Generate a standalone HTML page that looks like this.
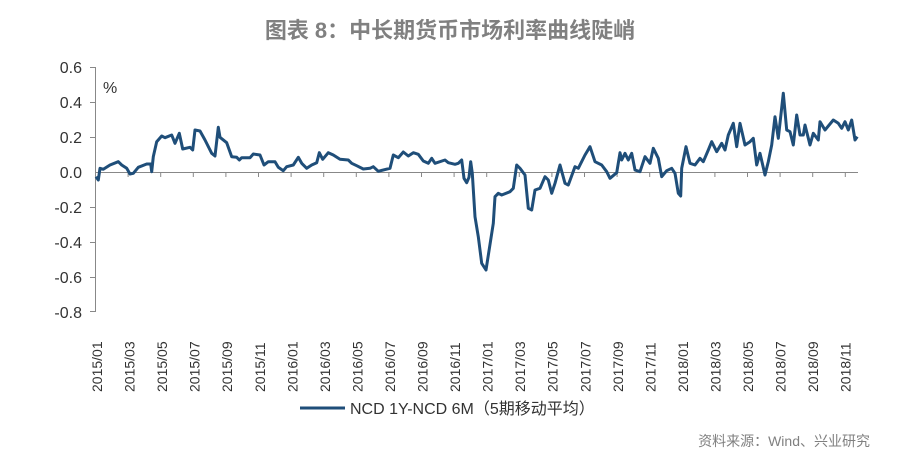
<!DOCTYPE html>
<html><head><meta charset="utf-8"><style>
body{margin:0;background:#fff;width:900px;height:463px;overflow:hidden;font-family:"Liberation Sans","Noto Sans CJK SC",sans-serif}
</style></head><body>
<svg id="s" width="900" height="463" xmlns="http://www.w3.org/2000/svg" font-family="Liberation Sans, Noto Sans CJK SC, sans-serif">
<text x="450" y="38" text-anchor="middle" font-size="22" font-weight="bold" fill="#808080">图表 8：中长期货币市场利率曲线陡峭</text>
<text x="103" y="93" font-size="16" fill="#333">%</text>
<g font-size="16" fill="#333" text-anchor="end">
<text x="82" y="73">0.6</text><text x="82" y="108">0.4</text><text x="82" y="143">0.2</text><text x="82" y="178">0.0</text>
<text x="82" y="213">-0.2</text><text x="82" y="248">-0.4</text><text x="82" y="283">-0.6</text><text x="82" y="318">-0.8</text>
</g>
<g stroke="#888" stroke-width="1">
<line x1="95.5" y1="67" x2="95.5" y2="312"/>
<line x1="90" y1="67.5" x2="95" y2="67.5"/><line x1="90" y1="102.5" x2="95" y2="102.5"/><line x1="90" y1="137.5" x2="95" y2="137.5"/><line x1="90" y1="207.5" x2="95" y2="207.5"/><line x1="90" y1="242.5" x2="95" y2="242.5"/><line x1="90" y1="277.5" x2="95" y2="277.5"/><line x1="90" y1="311.5" x2="95" y2="311.5"/>
<line x1="95" y1="172.5" x2="858" y2="172.5"/>
</g>
<g id="ticks" stroke="#888" stroke-width="1"></g>
<g id="xl" font-size="14" fill="#333"></g>
<path id="ln" fill="none" stroke="#1f4e79" stroke-width="3" stroke-linejoin="round"/>
<line x1="300" y1="408" x2="345" y2="408" stroke="#1f4e79" stroke-width="3"/>
<text x="350" y="414" font-size="16" fill="#333">NCD 1Y-NCD 6M（5期移动平均）</text>
<text x="870" y="446" text-anchor="end" font-size="14" fill="#808080">资料来源：Wind、兴业研究</text>
</svg>
<script>
var a=[48,380,55,390,60,355,70,358,90,345,115,335,125,345,140,355,150,372,160,370,175,352,200,342,212,342,215,365,220,320,230,275,245,258,255,263,275,255,285,280,298,250,308,297,330,292,338,300,345,240,360,243,375,270,395,310,405,318,415,232,420,262,440,278,455,320,470,322,478,330,485,323,510,323,520,312,540,315,552,345,565,335,585,335,595,352,610,362,620,350,640,345,655,322,665,340,680,355,695,345,710,338,718,308,728,328,745,308,760,315,780,328,805,330,815,340,830,347,850,357,870,355,880,350,895,364,930,355,940,315,955,323,970,306,985,318,1000,308,1015,313,1030,333,1045,340,1055,325,1065,340,1095,330,1105,338,1125,343,1135,340,1145,330,1152,385,1160,398,1167,382,1172,335,1177,370,1185,500];
var b=[15,500,25,560,35,640,48,660,70,520,75,440,85,430,95,435,120,425,130,415,140,345,150,355,165,375,175,475,185,480,195,420,210,415,225,380,235,390,245,430,255,400,270,345,285,400,295,405,315,350,325,355,345,315,360,290,375,335,395,345,410,365,420,385,440,368,450,308,455,330,465,310,475,330,485,310,495,360,510,365,525,320,540,340,550,295,565,325,575,380,590,362,605,355,615,370,625,430,632,438,635,355,648,290,660,340,675,345,690,325,700,335,715,300,725,275,740,305,755,280,765,300,775,255,790,220,800,290,810,220,825,285,840,275,850,265,860,345,870,310,885,375,895,335,905,285,915,200,925,265,940,130,950,240,960,245,970,285,980,195,990,255,1000,255,1005,225,1020,285,1030,250,1045,270,1050,215,1065,240,1090,210,1105,220,1115,235,1125,215,1135,240,1145,210,1155,270,1162,260];
var d="";
for(var i=0;i<a.length;i+=2)d+=(i?"L":"M")+(80+a[i]/3).toFixed(1)+","+(50+a[i+1]/3).toFixed(1);
for(var i=0;i<b.length;i+=2)d+="L"+(470+b[i]/3).toFixed(1)+","+(50+b[i+1]/3).toFixed(1);
document.getElementById("ln").setAttribute("d",d);
var ns="http://www.w3.org/2000/svg",t=document.getElementById("ticks");
for(var x=95.5+32.6;x<860;x+=32.6){var l=document.createElementNS(ns,"line");l.setAttribute("x1",x.toFixed(1));l.setAttribute("x2",x.toFixed(1));l.setAttribute("y1",172);l.setAttribute("y2",177);t.appendChild(l);}
var g=document.getElementById("xl"),k=0;
for(var y=2015;y<=2018;y++)for(var m=1;m<=11;m+=2){var x=102+k*32.55;var tx=document.createElementNS(ns,"text");tx.setAttribute("transform","translate("+x.toFixed(1)+",392) rotate(-90)");tx.textContent=y+"/"+(m<10?"0":"")+m;g.appendChild(tx);k++;}
</script>
</body></html>
